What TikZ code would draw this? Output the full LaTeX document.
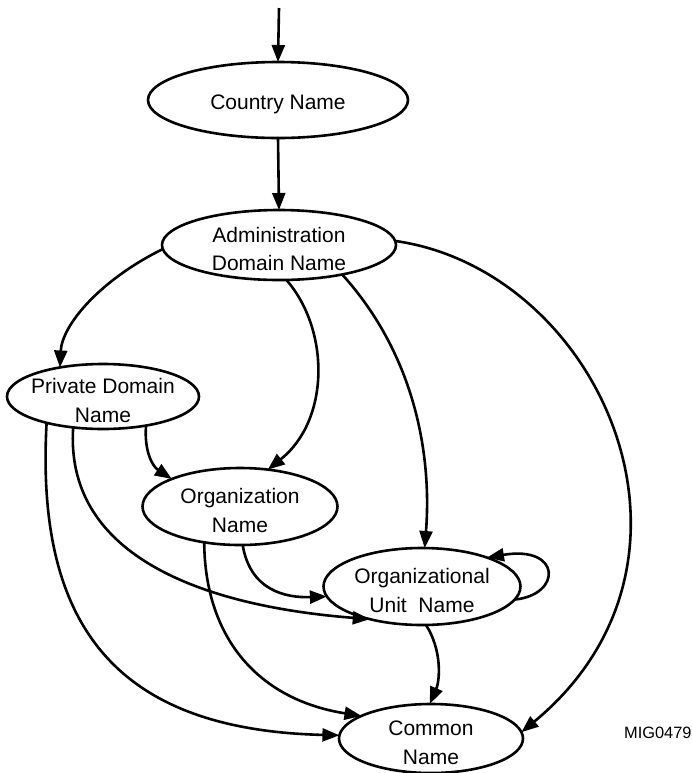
\documentclass[tikz,border=0pt]{standalone}
\usepackage{fontspec}
\setmainfont{Liberation Sans}
\usetikzlibrary{shapes.geometric,arrows.meta}
% taller first line, so that the text sits a little below the ellipse centre
\newcommand\capgap{\rule{0pt}{11.4pt}}
\begin{document}
\begin{tikzpicture}[x=0.5pt,y=-0.5pt,
  % negative inner sep: the ellipse size comes from minimum width/height only
  state/.style={draw, line width=1.3pt, ellipse, inner sep=-12pt, outer sep=0pt,
    align=center, font=\fontsize{10.5}{14.2}\selectfont},
  arr/.style={line width=1.3pt, -{Triangle[length=8.5pt,width=6.5pt]}}]
\useasboundingbox (0,0) rectangle (692,773);

% name components
\node[state, minimum width=130pt, minimum height=38pt]   (cn)  at (278,100)   {\capgap Country Name};
\node[state, minimum width=117pt, minimum height=35pt]   (adm) at (279,245)   {\capgap Administration\\Domain Name};
\node[state, minimum width=96pt,  minimum height=32.5pt] (prv) at (103,396.5) {\capgap Private Domain\\Name};
\node[state, minimum width=97.5pt,minimum height=38.5pt] (org) at (240,506.5) {\capgap Organization\\Name};
\node[state, minimum width=98.5pt,minimum height=38.5pt] (ou)  at (422,586.5) {\capgap Organizational\\Unit\ \ Name};
\node[state, minimum width=92pt,  minimum height=34.5pt] (com) at (431,738.5) {\capgap Common\\Name};
\node[anchor=east, inner sep=0pt, font=\fontsize{8.2}{10}\selectfont] (tag) at (692,733) {MIG0479};

% entry arrow
\coordinate (in) at (279,8);
\draw[arr] (in) -- (cn.north);
\draw[arr] (cn.south) -- (adm.north);

% successors of the administration domain
\draw[arr] (adm.182) .. controls (100,280) and (62,325) .. (prv.146);
\draw[arr] (adm.282) .. controls (330,330) and (330,420) .. (org.53);
\draw[arr] (adm.335) .. controls (415,355) and (432,455) .. (ou.86);
\draw[arr] (adm.2)   .. controls (600,270) and (730,560) .. (com.4);

% successors of the private domain
\draw[arr] (prv.326) .. controls (144,450) and (152,466) .. (org.158);
\draw[arr] (prv.226) .. controls (65,550) and (190,605) .. (ou.212);
\draw[arr] (prv.205) .. controls (35,630) and (120,730) .. (com.178);

% successors of the organization
\draw[arr] (org.274) .. controls (250,590) and (285,598) .. (ou.186);
\draw[arr] (org.225) .. controls (205,640) and (260,700) .. (com.162);

% organizational units
\draw[arr] (ou.276) .. controls (442,650) and (440,680) .. (com.92);
\draw[arr] (ou.352) .. controls (562,595) and (562,545) .. (ou.24);
\end{tikzpicture}
\end{document}
